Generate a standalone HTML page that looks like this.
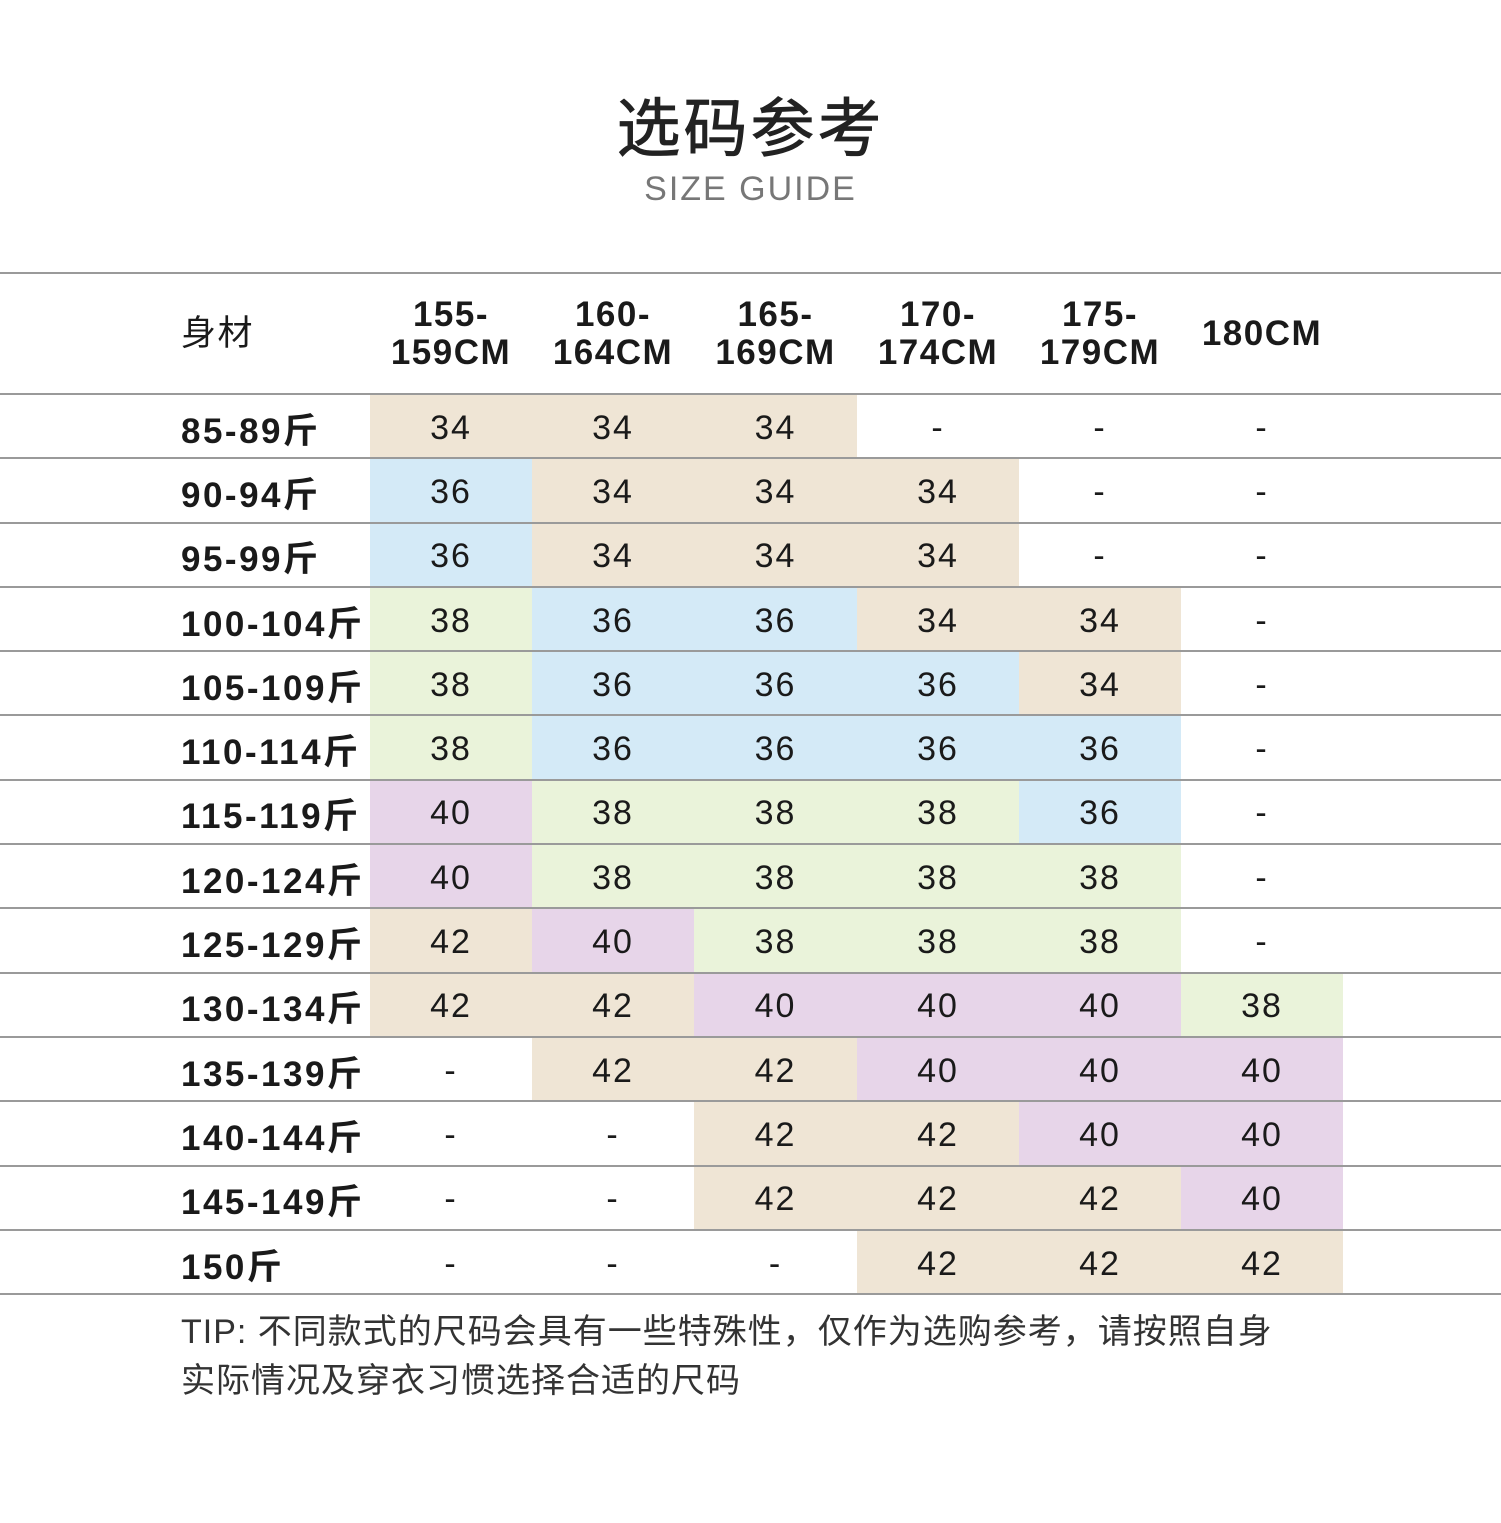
<!DOCTYPE html>
<html><head><meta charset="utf-8"><style>
body{margin:0;width:1501px;height:1523px;background:#fff;position:relative;font-family:"Liberation Sans","Noto Sans CJK SC",sans-serif;color:#1a1a1a;overflow:hidden}
.t{position:absolute;left:0;width:1501px;text-align:center}
table{position:absolute;left:0;top:272px;width:1501px;border-collapse:collapse;table-layout:fixed}
td{padding:0;text-align:center;font-size:34px;letter-spacing:2px;border-bottom:2px solid #9a9a9a;height:64.3px;padding-top:4px;box-sizing:border-box}
tr.h td{height:121px;padding-top:0;font-weight:bold;font-size:35px;letter-spacing:1.5px;line-height:38px;border-top:2px solid #9a9a9a}
td.l{text-align:left;padding-left:181px;font-weight:bold;font-size:35px;letter-spacing:2.5px}
.B{background:#efe5d5}.L{background:#d4eaf7}.G{background:#eaf3da}.P{background:#e7d5e9}
</style></head><body>
<div class="t" style="top:78px;font-size:64px;letter-spacing:3px;color:#222;-webkit-text-stroke:0.8px #222">选码参考</div>
<div class="t" style="top:170px;font-size:34px;color:#777;letter-spacing:2px">SIZE GUIDE</div>
<table>
<colgroup><col style="width:370px"><col style="width:162px"><col style="width:162px"><col style="width:163px"><col style="width:162px"><col style="width:162px"><col style="width:162px"><col></colgroup>
<tr class="h"><td class="l" style="font-weight:normal">身材</td><td>155-<br>159CM</td><td>160-<br>164CM</td><td>165-<br>169CM</td><td>170-<br>174CM</td><td>175-<br>179CM</td><td>180CM</td><td></td></tr>
<tr><td class="l">85-89斤</td><td class="B">34</td><td class="B">34</td><td class="B">34</td><td>-</td><td>-</td><td>-</td><td></td></tr>
<tr><td class="l">90-94斤</td><td class="L">36</td><td class="B">34</td><td class="B">34</td><td class="B">34</td><td>-</td><td>-</td><td></td></tr>
<tr><td class="l">95-99斤</td><td class="L">36</td><td class="B">34</td><td class="B">34</td><td class="B">34</td><td>-</td><td>-</td><td></td></tr>
<tr><td class="l">100-104斤</td><td class="G">38</td><td class="L">36</td><td class="L">36</td><td class="B">34</td><td class="B">34</td><td>-</td><td></td></tr>
<tr><td class="l">105-109斤</td><td class="G">38</td><td class="L">36</td><td class="L">36</td><td class="L">36</td><td class="B">34</td><td>-</td><td></td></tr>
<tr><td class="l">110-114斤</td><td class="G">38</td><td class="L">36</td><td class="L">36</td><td class="L">36</td><td class="L">36</td><td>-</td><td></td></tr>
<tr><td class="l">115-119斤</td><td class="P">40</td><td class="G">38</td><td class="G">38</td><td class="G">38</td><td class="L">36</td><td>-</td><td></td></tr>
<tr><td class="l">120-124斤</td><td class="P">40</td><td class="G">38</td><td class="G">38</td><td class="G">38</td><td class="G">38</td><td>-</td><td></td></tr>
<tr><td class="l">125-129斤</td><td class="B">42</td><td class="P">40</td><td class="G">38</td><td class="G">38</td><td class="G">38</td><td>-</td><td></td></tr>
<tr><td class="l">130-134斤</td><td class="B">42</td><td class="B">42</td><td class="P">40</td><td class="P">40</td><td class="P">40</td><td class="G">38</td><td></td></tr>
<tr><td class="l">135-139斤</td><td>-</td><td class="B">42</td><td class="B">42</td><td class="P">40</td><td class="P">40</td><td class="P">40</td><td></td></tr>
<tr><td class="l">140-144斤</td><td>-</td><td>-</td><td class="B">42</td><td class="B">42</td><td class="P">40</td><td class="P">40</td><td></td></tr>
<tr><td class="l">145-149斤</td><td>-</td><td>-</td><td class="B">42</td><td class="B">42</td><td class="B">42</td><td class="P">40</td><td></td></tr>
<tr><td class="l">150斤</td><td>-</td><td>-</td><td>-</td><td class="B">42</td><td class="B">42</td><td class="B">42</td><td></td></tr>
</table>
<div style="position:absolute;left:181px;top:1308px;font-size:34px;letter-spacing:1px;line-height:49px;color:#333;white-space:nowrap">TIP: 不同款式的尺码会具有一些特殊性，仅作为选购参考，请按照自身<br>实际情况及穿衣习惯选择合适的尺码</div>
</body></html>
